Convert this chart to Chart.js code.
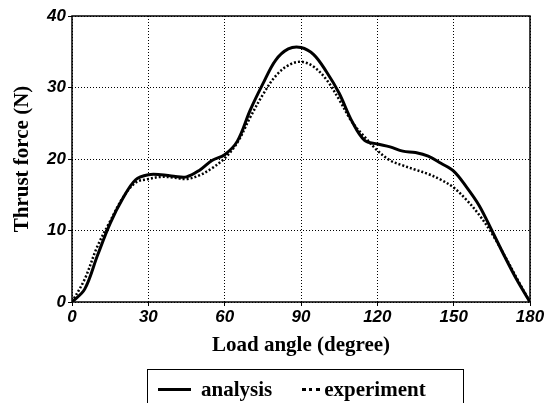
<!DOCTYPE html>
<html>
<head>
<meta charset="utf-8">
<script src="https://cdn.jsdelivr.net/npm/chart.js@4.4.1/dist/chart.umd.min.js"></script>
<style>
  body { margin: 0; background: #fff; overflow: hidden; }
  #wrap { position: relative; width: 546px; height: 403px; }
  #legend {
    position: absolute; left: 147px; top: 369px; width: 317px; height: 50px;
    border: 1px solid #000; border-bottom: none; box-sizing: border-box;
    font: bold 21px "Liberation Serif", "Times New Roman", serif; color: #000;
    display: flex; align-items: flex-start; padding-top: 6px;
  }
  #legend .item { display: flex; align-items: center; height: 26px; }
  #legend .solid { width: 33px; border-top: 3px solid #000; margin: 0 10px 0 10px; }
  #legend .dots { width: 18px; border-top: 3px dotted #000; margin: 0 4px 0 30px; }
</style>
</head>
<body>
<div id="wrap">
  <canvas id="chart" width="546" height="403"></canvas>
  <div id="legend">
    <div class="item"><span class="solid"></span>analysis</div>
    <div class="item"><span class="dots"></span>experiment</div>
  </div>
</div>
<script>
// Datos (ángulo de carga en grados, fuerza en N)
const angles = [0, 5, 10, 15, 20, 25, 30, 35, 40, 45, 50, 55, 60, 65, 70, 75, 80, 85, 90,
                95, 100, 105, 110, 115, 120, 125, 130, 135, 140, 145, 150, 155, 160, 165, 170, 175, 180];
const analysis = [0, 1.8, 6.5, 11.0, 14.5, 17.1, 17.8, 17.8, 17.6, 17.5, 18.4, 19.8, 20.6, 22.5, 26.8, 30.5, 33.8, 35.4, 35.6,
                  34.6, 32.2, 29.2, 25.3, 22.6, 22.1, 21.7, 21.1, 20.9, 20.4, 19.4, 18.3, 16.1, 13.5, 10.0, 6.4, 3.0, 0];
const experiment = [0, 3.2, 7.8, 11.3, 14.6, 16.7, 17.2, 17.5, 17.4, 17.2, 17.7, 18.7, 20.1, 22.3, 25.8, 29.0, 31.6, 33.1, 33.6,
                    32.9, 31.1, 28.3, 25.2, 23.1, 21.2, 19.8, 19.1, 18.5, 17.9, 17.1, 16.0, 14.3, 12.2, 9.6, 6.5, 3.2, 0];
const xTicks = [0, 30, 60, 90, 120, 150, 180];
const yTicks = [0, 10, 20, 30, 40];

const toPoints = (ys) => angles.map((a, i) => ({ x: a, y: ys[i] }));

const tickFont = { family: '"Liberation Sans", Arial, sans-serif', size: 17, style: 'italic', weight: 'bold' };
const titleFont = { family: '"Liberation Serif", "Times New Roman", serif', size: 21, weight: 'bold' };

// Marco del área de dibujo
const framePlugin = {
    id: 'frame',
    afterDraw(chart) {
        const { ctx, chartArea: a } = chart;
        ctx.save();
        ctx.strokeStyle = '#000';
        ctx.lineWidth = 1.5;
        ctx.strokeRect(a.left, a.top, a.right - a.left, a.bottom - a.top);
        ctx.restore();
    }
};

const gridOpts = { color: '#000', lineWidth: 1, tickLength: 4, tickColor: '#000', tickBorderDash: [] };

const ctx = document.getElementById('chart').getContext('2d');
new Chart(ctx, {
    type: 'line',
    data: {
        datasets: [
            {
                label: 'experiment',
                data: toPoints(experiment),
                borderColor: '#000',
                borderWidth: 2.5,
                borderDash: [2, 2],
                pointRadius: 0,
                tension: 0.35
            },
            {
                label: 'analysis',
                data: toPoints(analysis),
                borderColor: '#000',
                borderWidth: 3,
                pointRadius: 0,
                tension: 0.35
            }
        ]
    },
    options: {
        responsive: false,
        animation: false,
        layout: { padding: { left: 0, right: 16, top: 16, bottom: 45 } },
        plugins: {
            legend: { display: false },
            tooltip: { enabled: false }
        },
        scales: {
            x: {
                type: 'linear',
                min: 0, max: 180,
                afterBuildTicks: (s) => { s.ticks = xTicks.map(v => ({ value: v })); },
                afterFit: (s) => { s.height = 56; },
                grid: gridOpts,
                border: { display: false, dash: [1, 2] },
                ticks: { color: '#000', font: tickFont, padding: 1, maxRotation: 0 },
                title: { display: true, text: 'Load angle (degree)', color: '#000', font: titleFont, padding: { top: 4, bottom: 0 } }
            },
            y: {
                min: 0, max: 40,
                afterBuildTicks: (s) => { s.ticks = yTicks.map(v => ({ value: v })); },
                afterFit: (s) => { s.width = 72; },
                grid: gridOpts,
                border: { display: false, dash: [1, 2] },
                ticks: { color: '#000', font: tickFont, padding: 2 },
                title: { display: true, text: 'Thrust force (N)', color: '#000', font: titleFont, padding: { top: 10, bottom: 0 } }
            }
        }
    },
    plugins: [framePlugin]
});
</script>
</body>
</html>
